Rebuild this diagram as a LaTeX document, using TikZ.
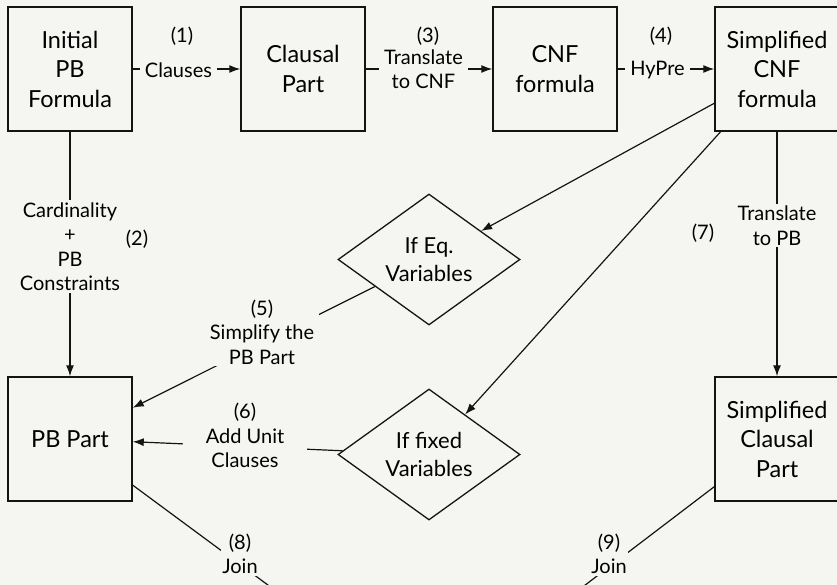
\documentclass[tikz,border=0pt]{standalone}
\usepackage{fontspec}
\setmainfont{Lato}
\usetikzlibrary{shapes.geometric,arrows.meta}
\definecolor{bg}{RGB}{245,246,241}
\definecolor{ink}{RGB}{20,20,20}
\begin{document}
\begin{tikzpicture}[x=1pt,y=-1pt,
  box/.style={draw=ink,line width=1.5pt,minimum width=124pt,minimum height=124pt,inner sep=0pt,align=center,font=\fontsize{23.5}{29.5}\selectfont},
  cond/.style={draw=ink,line width=1.3pt,shape=diamond,aspect=1.39,minimum width=182pt,minimum height=131pt,inner sep=0pt,align=center,font=\fontsize{22}{28}\selectfont},
  conn/.style={draw=ink,line width=1.2pt},
  arr/.style={conn,-{Latex[length=11pt,width=8pt]}},
  lab/.style={fill=bg,inner xsep=5pt,inner ysep=2pt,align=center,font=\fontsize{20}{24.5}\selectfont},
  num/.style={inner sep=0pt,font=\fontsize{20}{24.5}\selectfont}
]
\useasboundingbox (0,0) rectangle (837,585);
\fill[bg] (0,0) rectangle (837,585);
\clip (0,0) rectangle (837,585);

\node[box] (init) at (70,69) {Initial\\PB\\Formula};
\node[box] (clausal) at (303,69) {Clausal\\Part};
\node[box] (cnf) at (555,69) {CNF\\formula};
\node[box] (scnf) at (777,69) {Simplified\\CNF\\formula};
\node[box] (pb) at (70,439) {PB Part};
\node[box] (scp) at (777,439) {Simplified\\Clausal\\Part};
\node[cond] (eq) at (429,259.5) {If Eq.\\Variables};
\node[cond] (fix) at (429,454.5) {If fixed\\Variables};
\coordinate (join) at (429,704);

\draw[arr] (init) -- (clausal);
\draw[arr] (clausal) -- (cnf);
\draw[arr] (cnf) -- (scnf);
\draw[arr] (init) -- (pb);
\draw[arr] (scnf) -- (scp);
\draw[arr] (scnf) -- (eq);
\draw[arr] (scnf) -- (fix);
\draw[arr] (eq) -- (pb);
\draw[arr] (fix) -- (pb);
\draw[conn] (pb) -- (join);
\draw[conn] (scp) -- (join);

\node[lab] (l1) at (178.5,70) {Clauses};
\node[num] (n1) at (182,36) {(1)};
\node[lab] (l3) at (423.5,69) {Translate\\to CNF};
\node[num] (n3) at (428,36) {(3)};
\node[lab] (l4) at (657.5,70) {HyPre};
\node[num] (n4) at (661,36) {(4)};
\node[lab] (l2) at (70,246.5) {Cardinality\\+\\PB\\Constraints};
\node[num] (n2) at (137,239) {(2)};
\node[lab] (l7) at (777,225.5) {Translate\\to PB};
\node[num] (n7) at (703,233) {(7)};
\node[lab] (l5) at (262,332) {(5)\\Simplify the\\PB Part};
\node[lab,minimum width=124pt] (l6) at (245,435.5) {(6)\\Add Unit\\Clauses};
\node[lab,inner xsep=1pt] (l8) at (240,554) {(8)\\Join};
\node[lab,inner xsep=1pt] (l9) at (609,554) {(9)\\Join};
\end{tikzpicture}
\end{document}
